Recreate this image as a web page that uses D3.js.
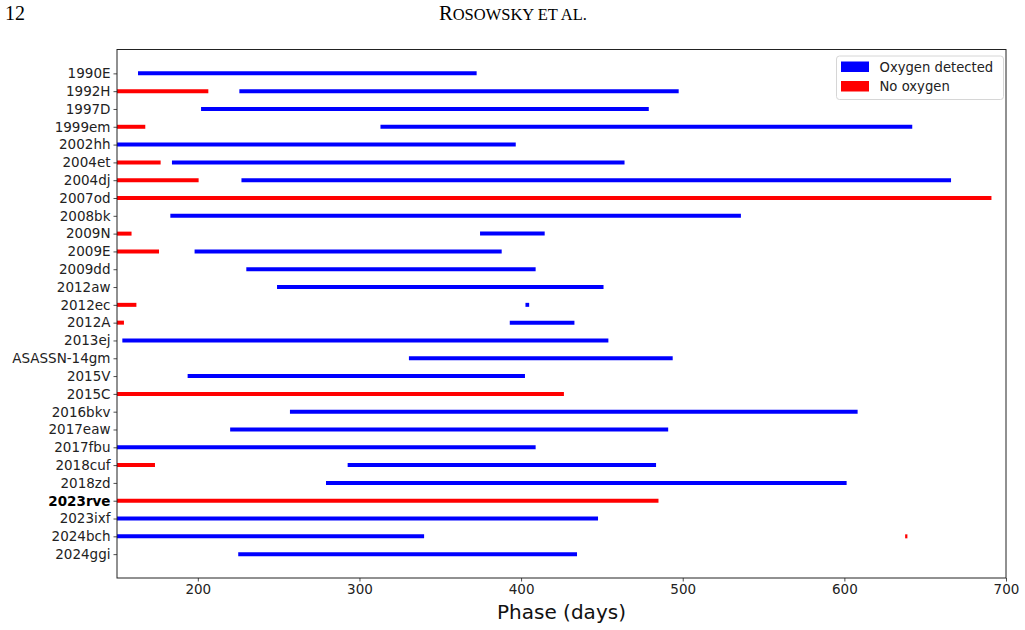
<!DOCTYPE html>
<meta charset="utf-8">
<script src="https://d3js.org/d3.v7.min.js"></script>
<style>
  body { margin: 0; background: #fff; }
</style>
<div class="canvas"></div>
<script>

    // supernovae, top to bottom
    const names = ["1990E", "1992H", "1997D", "1999em", "2002hh", "2004et", "2004dj", "2007od",
                   "2008bk", "2009N", "2009E", "2009dd", "2012aw", "2012ec", "2012A", "2013ej",
                   "ASASSN-14gm", "2015V", "2015C", "2016bkv", "2017eaw", "2017fbu", "2018cuf",
                   "2018zd", "2023rve", "2023ixf", "2024bch", "2024ggi"]

    // phase ranges (days) with oxygen detected, aligned with names
    const oxygenRanges = [[163, 372.5], [225.7, 497.5], [202, 479], [313, 642], [150, 396.7],
                          [184, 464], [227, 666], null, [183, 536], [374.6, 414.6], [198, 388],
                          [230, 409], [249, 451], [402.7, 405], [393, 433], [153.3, 454],
                          [330.6, 493.8], [193.7, 402.4], null, [257, 608.2], [220, 491],
                          [150, 409], [292.7, 483.5], [279.3, 601.4], null, [150, 447.6],
                          [150, 340], [225, 434.6]]

    // phase ranges (days) with no oxygen, aligned with names
    const noOxygenRanges = [null, [150, 206.5], null, [150, 167.5], null, [150, 177], [150, 200.5],
                            [150, 691], null, [150, 159], [150, 176], null, null, [150, 162],
                            [150, 154.3], null, null, null, [150, 426.5], null, null, null,
                            [150, 173.5], null, [150, 485], null, [637.6, 639], null]

    const xTicks = [200, 300, 400, 500, 600, 700]
    const highlight = "2023rve"

    const width = 1025
    const height = 630
    const margin = {"top": 49.5, "right": 19, "bottom": 52, "left": 117}
    const graphWidth = width - margin.left - margin.right
    const graphHeight = height - margin.top - margin.bottom

    const svg = d3.select(".canvas")
                .append("svg")
                .attr("width", width)
                .attr("height", height)
                .style("font-family", "DejaVu Sans")

    // page header
    svg.append("text")
        .attr("x", 5).attr("y", 20)
        .style("font-family", "Liberation Serif")
        .style("font-size", "20px")
        .text("12")

    const head = svg.append("text")
        .attr("x", 513).attr("y", 20)
        .attr("text-anchor", "middle")
        .style("font-family", "Liberation Serif")
    head.append("tspan").style("font-size", "20.5px").text("R")
    head.append("tspan").style("font-size", "16.5px").text("OSOWSKY ET AL.")

    const graph = svg.append("g")
                    .attr("transform", `translate(${margin.left},${margin.top})`)

    const x = d3.scaleLinear()
                .domain([150, 700])
                .range([0, graphWidth])

    const y = d3.scaleLinear()
                .domain([-1.34, names.length - 1 + 1.34])
                .range([0, graphHeight])

    const segs = []
    names.forEach((n, i) => {
        if (oxygenRanges[i]) segs.push({i, r: oxygenRanges[i], c: "#0000ff"})
        if (noOxygenRanges[i]) segs.push({i, r: noOxygenRanges[i], c: "#ff0000"})
    })

    graph.selectAll("line.seg").data(segs)
        .enter()
        .append("line")
        .attr("class", "seg")
        .attr("x1", d => x(d.r[0]))
        .attr("x2", d => x(d.r[1]))
        .attr("y1", d => y(d.i))
        .attr("y2", d => y(d.i))
        .attr("stroke", d => d.c)
        .attr("stroke-width", 4)

    // axes
    const xAxis = d3.axisBottom(x)
                    .tickValues(xTicks)
                    .tickSize(3.5)
                    .tickPadding(3)
    const yAxis = d3.axisLeft(y)
                    .tickValues(d3.range(names.length))
                    .tickFormat(i => names[i])
                    .tickSize(3.5)
                    .tickPadding(3)

    const gX = graph.append("g")
                .attr("transform", `translate(0,${graphHeight})`)
                .call(xAxis)
    const gY = graph.append("g").call(yAxis)

    ;[gX, gY].forEach(g => {
        g.select(".domain").remove()
        g.selectAll("line").attr("stroke", "#222").attr("stroke-width", 0.8)
        g.selectAll("text")
            .attr("fill", "#222")
            .style("font-family", "DejaVu Sans")
            .style("font-size", "13.5px")
    })

    gY.selectAll("text")
        .style("font-weight", i => names[i] === highlight ? "bold" : "normal")
        .attr("fill", i => names[i] === highlight ? "#000" : "#222")

    // frame
    graph.append("rect")
        .attr("width", graphWidth)
        .attr("height", graphHeight)
        .attr("fill", "none")
        .attr("stroke", "#222")
        .attr("stroke-width", 1)

    svg.append("text")
        .attr("x", margin.left + graphWidth / 2)
        .attr("y", 619)
        .attr("text-anchor", "middle")
        .style("font-size", "20px")
        .attr("fill", "#111")
        .text("Phase (days)")

    // legend
    const legendItems = [{label: "Oxygen detected", c: "#0000ff"}, {label: "No oxygen", c: "#ff0000"}]
    const legend = svg.append("g").attr("transform", "translate(836.5,56)")
    legend.append("rect")
        .attr("width", 167).attr("height", 43.5)
        .attr("rx", 3)
        .attr("fill", "#fff")
        .attr("fill-opacity", 0.8)
        .attr("stroke", "#d6d6d6")
    legendItems.forEach((d, k) => {
        legend.append("rect")
            .attr("x", 4.5).attr("y", 5.5 + k * 19.5)
            .attr("width", 28).attr("height", 10.5)
            .attr("fill", d.c)
        legend.append("text")
            .attr("x", 43).attr("y", 15.5 + k * 19.5)
            .style("font-size", "13.2px")
            .attr("fill", "#222")
            .text(d.label)
    })

</script>
